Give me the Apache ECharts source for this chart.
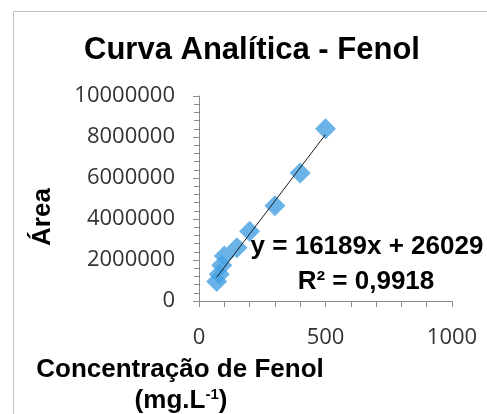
<!DOCTYPE html>
<html>
<head>
<meta charset="utf-8">
<script src="https://cdn.jsdelivr.net/npm/echarts@6/dist/echarts.min.js"></script>
<style>
html,body{margin:0;padding:0;background:#fff;}
#c{width:487px;height:414px;}
</style>
</head>
<body>
<div id="c"></div>
<script>
// Data
var concX = [70, 80, 90, 100, 150, 200, 300, 400, 500];
var areaY = [950000, 1300000, 1750000, 2200000, 2600000, 3400000, 4650000, 6250000, 8400000];
var trendSlope = 16189;
var trendIntercept = 26029;
var trendX = [70, 500];
var xTicks = [0, 500, 1000];
var yTicks = [0, 2000000, 4000000, 6000000, 8000000, 10000000];

var scatterData = concX.map(function (x, i) { return [x, areaY[i]]; });
var trendData = trendX.map(function (x) { return [x, trendSlope * x + trendIntercept]; });

var bold = 'Liberation Sans';
var chart = echarts.init(document.getElementById('c'), null, {renderer: 'canvas'});
chart.setOption({
  backgroundColor: '#ffffff',
  animation: false,
  grid: {left: 199, right: 35, top: 96, bottom: 113, containLabel: false},
  xAxis: {
    type: 'value', min: xTicks[0], max: xTicks[xTicks.length - 1], interval: 500,
    axisLine: {show: true, lineStyle: {color: '#8c8c8c', width: 1}},
    axisTick: {show: true, inside: false, length: 6, lineStyle: {color: '#8c8c8c'}},
    minorTick: {show: true, splitNumber: 5, length: 6, lineStyle: {color: '#8c8c8c'}},
    splitLine: {show: false},
    axisLabel: {fontFamily: 'Open Sans', fontSize: 22, color: '#333333', margin: 26,
                formatter: function (v) { return String(v); }}
  },
  yAxis: {
    type: 'value', min: yTicks[0], max: yTicks[yTicks.length - 1], interval: 2000000,
    axisLine: {show: true, lineStyle: {color: '#8c8c8c', width: 1}},
    axisTick: {show: true, inside: false, length: 6, lineStyle: {color: '#8c8c8c'}},
    minorTick: {show: true, splitNumber: 5, length: 5, lineStyle: {color: '#8c8c8c'}},
    splitLine: {show: false},
    axisLabel: {fontFamily: 'Open Sans', fontSize: 22, color: '#333333', margin: 24,
                formatter: function (v) { return String(v); }}
  },
  series: [
    {
      type: 'scatter', data: scatterData, symbol: 'diamond', symbolSize: 21,
      itemStyle: {color: '#43a0e2'}, z: 2
    },
    {
      type: 'line', data: trendData, showSymbol: false, symbol: 'none',
      lineStyle: {color: '#1a1a1a', width: 1}, z: 3
    }
  ],
  graphic: [
    {type: 'rect', shape: {x: 13.5, y: 11.5, width: 600, height: 600},
     style: {fill: 'none', stroke: '#c4c4c4', lineWidth: 1}, silent: true},
    {type: 'text', x: 252, y: 50,
     style: {text: 'Curva Analítica - Fenol', fontFamily: bold, fontWeight: 'bold', fontSize: 31,
             fill: '#000', align: 'center', verticalAlign: 'middle'}},
    {type: 'text', x: 43, y: 217, rotation: Math.PI / 2,
     style: {text: 'Área', fontFamily: bold, fontWeight: 'bold', fontSize: 26,
             fill: '#000', align: 'center', verticalAlign: 'middle'}},
    {type: 'text', x: 180, y: 370,
     style: {text: 'Concentração de Fenol', fontFamily: bold, fontWeight: 'bold', fontSize: 26,
             fill: '#000', align: 'center', verticalAlign: 'middle'}},
    {type: 'text', x: 181, y: 401,
     style: {text: '{a|(mg.L}{s|-1}{a|)}', align: 'center', verticalAlign: 'middle',
             rich: {
               a: {fontFamily: bold, fontWeight: 'bold', fontSize: 26, fill: '#000', lineHeight: 28},
               s: {fontFamily: bold, fontWeight: 'bold', fontSize: 15, fill: '#000', verticalAlign: 'top', lineHeight: 28}
             }}},
    {type: 'text', x: 367, y: 247,
     style: {text: 'y = ' + trendSlope + 'x + ' + trendIntercept, fontFamily: bold, fontWeight: 'bold', fontSize: 26,
             fill: '#000', align: 'center', verticalAlign: 'middle'}},
    {type: 'text', x: 366, y: 282,
     style: {text: 'R² = 0,9918', fontFamily: bold, fontWeight: 'bold', fontSize: 26,
             fill: '#000', align: 'center', verticalAlign: 'middle'}}
  ]
});
</script>
</body>
</html>
